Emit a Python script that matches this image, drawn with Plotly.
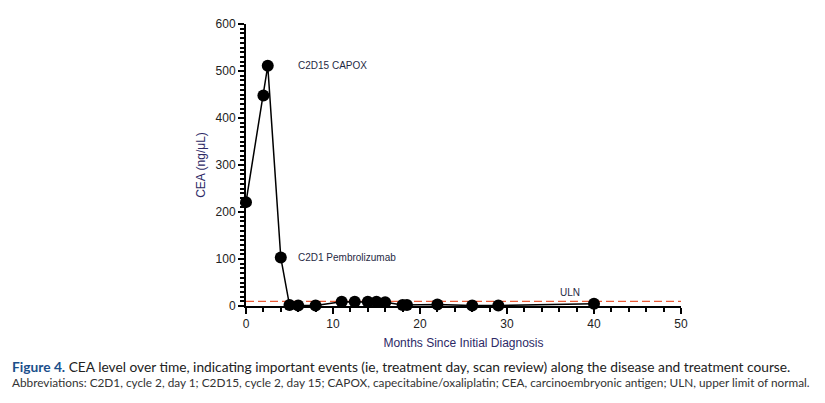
import plotly.graph_objects as go

months = [0, 2, 2.5, 4, 5, 6, 8, 11, 12.5, 14, 15, 16, 18, 18.5, 22, 26, 29, 40]
cea = [221, 448, 511, 103, 2, 1, 1, 9, 9, 9, 9, 8, 2, 2, 3, 1, 1, 5]
uln_value = 10
events = [
    {"label": "C2D15 CAPOX", "x": 5.7, "y": 512},
    {"label": "C2D1 Pembrolizumab", "x": 5.7, "y": 103},
]
uln_label = {"label": "ULN", "x": 37.2, "y": 28}

navy = "#2d2966"
fig = go.Figure()
fig.add_trace(go.Scatter(
    x=[0, 50], y=[uln_value, uln_value], mode="lines",
    line=dict(color="#ea5a36", width=1.3, dash="8px,4px"),
    hoverinfo="skip", cliponaxis=False, showlegend=False))
fig.add_trace(go.Scatter(
    x=months, y=cea, mode="lines+markers",
    line=dict(color="black", width=1.5),
    marker=dict(color="black", size=12),
    cliponaxis=False, showlegend=False))

for ev in events + [uln_label]:
    fig.add_annotation(x=ev["x"], y=ev["y"], text=ev["label"], showarrow=False,
                       xanchor="left" if ev is not uln_label else "center",
                       yanchor="middle",
                       font=dict(family="Liberation Sans", size=10, color="#1f2a44"))

fig.add_annotation(xref="paper", yref="paper", x=-0.5425, y=-0.176,
                   xanchor="left", yanchor="top", showarrow=False, align="left",
                   text="<b><span style='color:#1a4f8b'>Figure 4.</span></b> CEA level over time, indicating important events (ie, treatment day, scan review) along the disease and treatment course.",
                   font=dict(family="Lato", size=13.75, color="#222222"))
fig.add_annotation(xref="paper", yref="paper", x=-0.5425, y=-0.238,
                   xanchor="left", yanchor="top", showarrow=False, align="left",
                   text="Abbreviations: C2D1, cycle 2, day 1; C2D15, cycle 2, day 15; CAPOX, capecitabine/oxaliplatin; CEA, carcinoembryonic antigen; ULN, upper limit of normal.",
                   font=dict(family="Lato", size=11.8, color="#333333"))

axis_common = dict(showgrid=False, zeroline=False, showline=True, linecolor="black",
                   linewidth=2, ticks="outside", tickcolor="black", tickwidth=2,
                   ticklen=6, tickfont=dict(family="Liberation Sans", size=12, color="#222222"))
fig.update_xaxes(range=[0, 50], dtick=10,
                 minor=dict(dtick=2, ticks="outside", ticklen=4, tickwidth=2, tickcolor="black"),
                 title=dict(text="Months Since Initial Diagnosis", standoff=8,
                            font=dict(family="Liberation Sans", size=12, color=navy)),
                 **axis_common)
fig.update_yaxes(range=[0, 600], dtick=100,
                 minor=dict(dtick=10, ticks="outside", ticklen=4, tickwidth=2, tickcolor="black"),
                 title=dict(text="CEA (ng/μL)", standoff=7,
                            font=dict(family="Liberation Sans", size=12, color=navy)),
                 **axis_common)
fig.update_layout(width=817, height=395, margin=dict(l=238, r=144, t=9, b=97),
                  plot_bgcolor="white", paper_bgcolor="white")
fig.write_html("out.html")
